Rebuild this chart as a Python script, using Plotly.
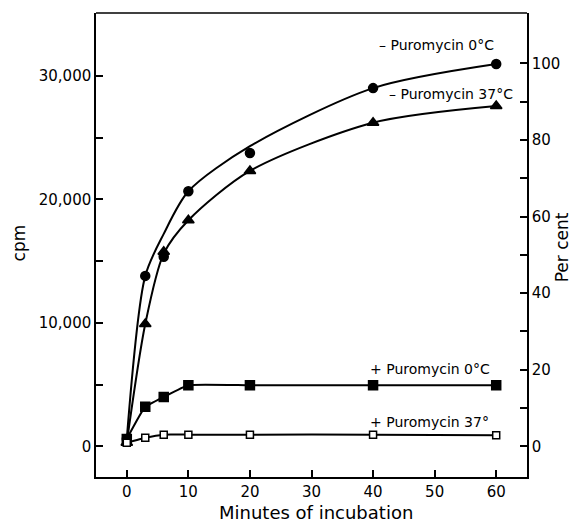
import plotly.graph_objects as go

minutes = [0, 3, 6, 10, 20, 40, 60]
# measured points
minus_0C = [600, 13800, 15350, 20650, 23750, 29000, 30950]
minus_37C = [300, 9900, 15750, 18300, 22300, 26200, 27550]
plus_0C = [600, 3200, 4000, 4950, 4950, 4950, 4950]
plus_37C = [300, 700, 950, 950, 950, 950, 900]
# hand-drawn fitted curves at the same minutes
curve_minus_0C = [600, 13800, 17200, 20650, 24300, 29000, 30950]
curve_minus_37C = [300, 9900, 15600, 18300, 22300, 26200, 27550]
curve_plus_0C = [600, 3200, 4000, 4950, 4950, 4950, 4950]
curve_plus_37C = [300, 700, 950, 950, 950, 950, 900]

cpm_ticks = [0, 5000, 10000, 15000, 20000, 25000, 30000]
cpm_labels = ["0", "", "10,000", "", "20,000", "", "30,000"]
pct_ticks = [0, 10, 20, 30, 40, 50, 60, 70, 80, 90, 100]
pct_labels = ["0", "", "20", "", "40", "", "60", "", "80", "", "100"]
x_ticks = [0, 10, 20, 30, 40, 50, 60]

CPM_PER_PCT = 310.0
cpm_range = [-2480, 35080]

FONT = "DejaVu Sans"

fig = go.Figure()

def add(points, curve, symbol, size, fill, name, smooth):
    fig.add_trace(go.Scatter(
        x=minutes, y=curve, mode="lines", name=name,
        line=dict(color="black", width=2, shape="spline", smoothing=smooth),
        hoverinfo="skip", showlegend=False))
    fig.add_trace(go.Scatter(
        x=minutes, y=points, mode="markers", name=name,
        marker=dict(symbol=symbol, size=size, color=fill,
                    line=dict(color="black", width=1.5)),
        showlegend=False))

add(minus_0C, curve_minus_0C, "circle", 9, "black", "- Puromycin 0°C", 0.8)
add(minus_37C, curve_minus_37C, "triangle-up", 10, "black", "- Puromycin 37°C", 0.8)
add(plus_0C, curve_plus_0C, "square", 9, "black", "+ Puromycin 0°C", 0.35)
add(plus_37C, curve_plus_37C, "square", 7, "white", "+ Puromycin 37°", 0.35)

# invisible trace for the right axis
fig.add_trace(go.Scatter(x=[None], y=[None], yaxis="y2", showlegend=False))

ann_font = dict(family=FONT, size=14, color="black")
labels = [
    ("– Puromycin 0°C", 40.6, 32500),
    ("– Puromycin 37°C", 42.2, 28520),
    ("+ Puromycin 0°C", 39.1, 6260),
    ("+ Puromycin 37°", 39.1, 2010),
]
for text, lx, ly in labels:
    fig.add_annotation(x=lx, y=ly, xref="x", yref="y", text=text,
                       showarrow=False, xanchor="left", yanchor="middle",
                       font=ann_font)

title_font = dict(family=FONT, size=17, color="black")
fig.add_annotation(text="cpm", xref="paper", yref="paper", x=-0.178, y=0.504,
                   textangle=-90, showarrow=False, font=title_font,
                   xanchor="center", yanchor="middle")
fig.add_annotation(text="Per cent", xref="paper", yref="paper", x=1.08, y=0.496,
                   textangle=-90, showarrow=False, font=title_font,
                   xanchor="center", yanchor="middle")
fig.add_annotation(text="Minutes of incubation", xref="paper", yref="paper",
                   x=0.51, y=-0.077, showarrow=False,
                   font=dict(family=FONT, size=18, color="black"),
                   xanchor="center", yanchor="middle")

axis_common = dict(showgrid=False, zeroline=False, showline=True,
                   linecolor="black", linewidth=1.5, ticks="inside",
                   ticklen=7, tickwidth=1.5, tickcolor="black", automargin=False,
                   tickfont=dict(family=FONT, size=15, color="black"))

# page body has an 8px margin, so the figure is 8px smaller each way
fig.update_layout(
    width=569, height=515,
    margin=dict(l=88, r=50, t=5, b=46),
    paper_bgcolor="white", plot_bgcolor="white",
    xaxis=dict(range=[-5, 65], tickvals=x_ticks, **axis_common),
    yaxis=dict(range=cpm_range, tickvals=cpm_ticks, ticktext=cpm_labels,
               **axis_common),
    yaxis2=dict(overlaying="y", side="right",
                range=[v / CPM_PER_PCT for v in cpm_range],
                tickvals=pct_ticks, ticktext=pct_labels, **axis_common),
)
# top frame line
fig.add_shape(type="line", xref="paper", yref="paper", x0=0, x1=1, y0=1, y1=1,
              line=dict(color="black", width=1.5))

fig.write_html("out.html")
